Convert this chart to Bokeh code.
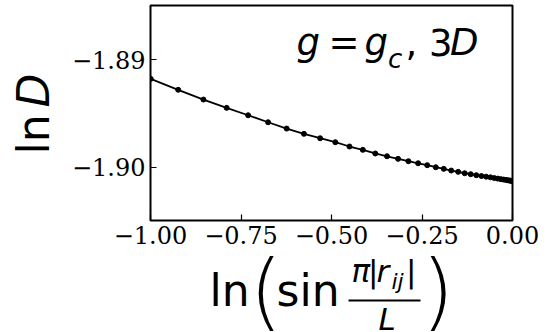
from bokeh.plotting import figure
from bokeh.models import Range1d, FixedTicker, Label, BoxAnnotation
from bokeh.layouts import column, row
from bokeh.embed import file_html
from bokeh.resources import INLINE

# ---- data ----
x_lnsin = [-0.9994, -0.9235, -0.8538, -0.7897, -0.7303, -0.6752, -0.6239, -0.5761,
           -0.5314, -0.4895, -0.4503, -0.4135, -0.3790, -0.3466, -0.3161, -0.2875,
           -0.2607, -0.2355, -0.2119, -0.1899, -0.1692, -0.1500, -0.1320, -0.1154,
           -0.1000, -0.0858, -0.0728, -0.0609, -0.0502, -0.0405, -0.0319, -0.0244,
           -0.0179, -0.0124, -0.0079, -0.0045, -0.0020, -0.0005, 0.0]
lnD = [-1.89177, -1.89279, -1.89370, -1.89447, -1.89516, -1.89581, -1.89640, -1.89689,
       -1.89730, -1.89767, -1.89807, -1.89838, -1.89872, -1.89898, -1.89922, -1.89944,
       -1.89963, -1.89981, -1.90000, -1.90015, -1.90031, -1.90043, -1.90056, -1.90065,
       -1.90074, -1.90082, -1.90088, -1.90094, -1.90101, -1.90106, -1.90111, -1.90115,
       -1.90118, -1.90122, -1.90124, -1.90126, -1.90127, -1.90128, -1.90128]

x_ticks = [-1.0, -0.75, -0.5, -0.25, 0.0]
x_tick_labels = ["\u22121.00", "\u22120.75", "\u22120.50", "\u22120.25", "0.00"]
y_ticks = [-1.90, -1.89]
y_tick_labels = ["\u22121.90", "\u22121.89"]

# ---- layout (page pixels) ----
YL_W = 60                      # width of the y-label strip
MAIN_W, MAIN_H = 493, 255
BL, BR, BT, BB = 90, 41, 5, 35
XL_H = 332 - MAIN_H            # height of the x-label strip
FX0 = YL_W + BL                # frame left (page px)
FY1 = MAIN_H - BB              # frame bottom (page px)
FONT = "DejaVu Sans"
PAREN_FONT = "DejaVu Sans Light"
K = 0.43                       # baseline correction (fraction of font size)

p = figure(width=MAIN_W, height=MAIN_H, output_backend="svg", toolbar_location=None,
           x_range=Range1d(-1.0, 0.0), y_range=Range1d(-1.90496, -1.88494),
           min_border_left=BL, min_border_right=BR, min_border_top=BT, min_border_bottom=BB,
           background_fill_color="white", border_fill_color="white")
p.outline_line_color = "black"
p.outline_line_width = 2
p.xgrid.visible = False
p.ygrid.visible = False

for ax, ticks, labels in ((p.xaxis[0], x_ticks, x_tick_labels), (p.yaxis[0], y_ticks, y_tick_labels)):
    ax.ticker = FixedTicker(ticks=ticks)
    ax.major_label_overrides = dict(zip(ticks, labels))
    ax.major_label_text_font = "DejaVu Serif"
    ax.major_label_text_font_size = "24px"
    ax.major_label_text_color = "black"
    ax.axis_line_color = None
    ax.major_tick_in = 6
    ax.major_tick_out = 0
    ax.major_tick_line_color = "black"
    ax.major_tick_line_width = 1.2
    ax.minor_tick_line_color = None
    ax.major_label_standoff = 5

p.line(x_lnsin, lnD, line_color="black", line_width=1.8)
p.scatter(x_lnsin, lnD, size=5, fill_color="black", line_color="black")


def strip(w, h):
    f = figure(width=w, height=h, output_backend="svg", toolbar_location=None,
               x_range=Range1d(0, w), y_range=Range1d(0, h),
               x_axis_location=None, y_axis_location=None, min_border=0,
               background_fill_color="white", border_fill_color="white")
    f.outline_line_color = None
    f.grid.visible = False
    return f


ylab = strip(YL_W, MAIN_H)     # its frame is aligned with the main frame (page y 5..220)
xlab = strip(YL_W + MAIN_W, XL_H)


def lab(fig, ox, oy, text, px, py, size, italic=False, rotated=False, font=FONT):
    # (px, py): wanted glyph origin in page pixels; ox/oy: page x of frame left / y of frame bottom
    if rotated:
        sx, sy, ang = px - K * size - ox, oy - py, 1.5707963
    else:
        sx, sy, ang = px - ox, oy - (py - K * size), 0.0
    fig.add_layout(Label(text=text, x=sx, y=sy, x_units="screen", y_units="screen",
                         text_font=font, text_font_size=f"{size}px",
                         text_font_style="italic" if italic else "normal",
                         text_color="black", text_align="left", text_baseline="alphabetic",
                         angle=ang))


# title  g = g_c, 3D  (inside the frame)
TB = 57.7
lab(p, FX0, FY1, "g", 296, TB, 37, True)
lab(p, FX0, FY1, "=", 328, TB, 37)
lab(p, FX0, FY1, "g", 364, TB, 37, True)
lab(p, FX0, FY1, "c", 387.5, 69.5, 26, True)
lab(p, FX0, FY1, ",", 405, TB, 37)
lab(p, FX0, FY1, "3", 428.4, TB, 37)
lab(p, FX0, FY1, "D", 449.5, TB, 37, True)

# y label  ln D (rotated)
lab(ylab, 0, FY1, "ln", 51.7, 154, 44, False, True)
lab(ylab, 0, FY1, "D", 51.7, 107, 44, True, True)

# x label  ln( sin pi|r_ij| / L )
XB = 332
lab(xlab, 0, XB, "ln", 209, 309, 44)
lab(xlab, 0, XB, "(", 249, 326.4, 84, font=PAREN_FONT)
lab(xlab, 0, XB, "sin", 276, 309, 44)
lab(xlab, 0, XB, "\u03c0", 351, 284.2, 31, True)
lab(xlab, 0, XB, "|", 367.4, 284.2, 31)
lab(xlab, 0, XB, "r", 376, 284.2, 31, True)
lab(xlab, 0, XB, "ij", 391, 290.5, 22, True)
lab(xlab, 0, XB, "|", 405.5, 284.2, 31)
lab(xlab, 0, XB, "L", 378, 331.5, 31, True)
lab(xlab, 0, XB, ")", 421, 326.4, 84, font=PAREN_FONT)
# fraction bar (strip's data units are its pixels)
xlab.add_layout(BoxAnnotation(left=348, right=420, bottom=XB - 301, top=XB - 299,
                              fill_color="black", fill_alpha=1.0, line_color=None))

layout = column(row(ylab, p), xlab)
open("out.html", "w").write(file_html(layout, INLINE))
